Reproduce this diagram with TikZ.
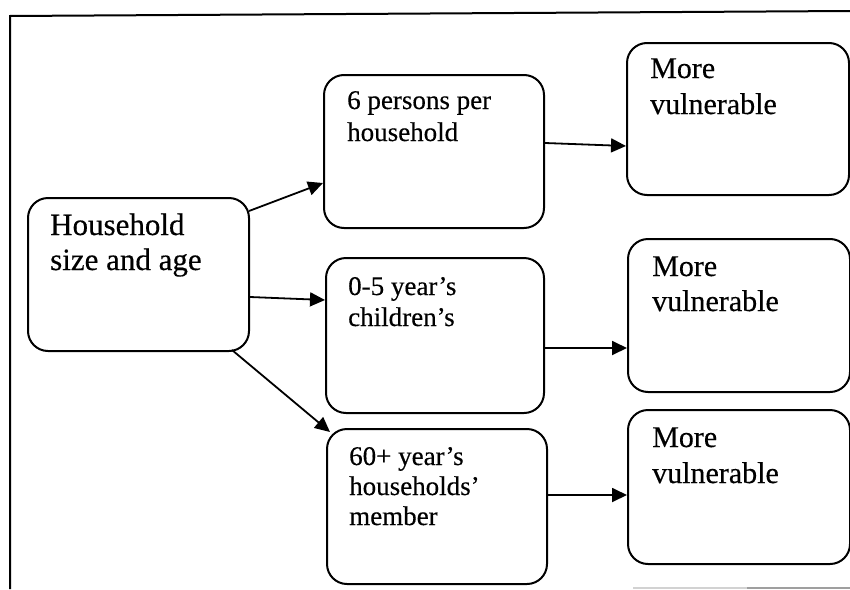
\documentclass[tikz,border=0pt]{standalone}
\usepackage{fontspec}
\setmainfont{Liberation Serif}[FakeBold=0.4]
\usetikzlibrary{calc,arrows.meta}
\begin{document}
\begin{tikzpicture}[x=1pt,y=-1pt,
  box/.style={draw, line width=2pt, rounded corners=20pt, anchor=north west, inner sep=0pt},
  txt/.style={anchor=base west, inner sep=0pt},
  link/.style={line width=1.8pt, -{Triangle[length=15pt,width=14pt]}},
  frame/.style={line width=2pt}]
\useasboundingbox (0,0) rectangle (850,589);

% outer frame
\draw[frame] (10,589) -- (10,16) -- (850,11);
\draw[gray!35, line width=1.5pt] (633,588) -- (747,588);
\draw[gray!75, line width=1.5pt] (747,588) -- (850,588);

% boxes
\node[box, minimum width=221pt, minimum height=153pt] (main) at (27,197) {};
\node[box, minimum width=220pt, minimum height=153pt] (mid1) at (323,74) {};
\node[box, minimum width=218pt, minimum height=155pt] (mid2) at (325,257) {};
\node[box, minimum width=220pt, minimum height=155pt] (mid3) at (326,428) {};
\node[box, minimum width=222pt, minimum height=152pt] (out1) at (626,42) {};
\node[box, minimum width=222pt, minimum height=153pt] (out2) at (627,238) {};
\node[box, minimum width=222pt, minimum height=154pt] (out3) at (627,409) {};

% texts
\node[txt] (tmain) at ($(main.north west)+(23,38)$)
  {\fontsize{31}{35}\selectfont\parbox[t]{200pt}{\raggedright Household\\size and age}};
\node[txt] (tmid1) at ($(mid1.north west)+(24,35)$)
  {\fontsize{27}{32}\selectfont\parbox[t]{190pt}{\raggedright 6 persons per\\household}};
\node[txt] (tmid2) at ($(mid2.north west)+(23,38)$)
  {\fontsize{27}{31}\selectfont\parbox[t]{190pt}{\raggedright 0-5 year’s\\children’s}};
\node[txt] (tmid3) at ($(mid3.north west)+(23,37)$)
  {\fontsize{27}{30}\selectfont\parbox[t]{190pt}{\raggedright 60+ year’s\\households’\\member}};
\node[txt] (tout1) at ($(out1.north west)+(24,36)$)
  {\fontsize{30}{36}\selectfont\parbox[t]{190pt}{\raggedright More\\vulnerable}};
\node[txt] (tout2) at ($(out2.north west)+(25,38)$)
  {\fontsize{30}{35}\selectfont\parbox[t]{190pt}{\raggedright More\\vulnerable}};
\node[txt] (tout3) at ($(out3.north west)+(25,38)$)
  {\fontsize{30}{36}\selectfont\parbox[t]{190pt}{\raggedright More\\vulnerable}};

% connectors
\draw[link] ($(main.north east)+(-1,14)$) -- ($(mid1.north west)+(0,109)$);
\draw[link] ($(main.north east)+(0,100)$) -- ($(mid2.north west)+(0,43)$);
\draw[link] ($(main.south east)+(-18,-2)$) -- ($(mid3.north west)+(4,4)$);
\draw[link] ($(mid1.north east)+(0,69)$) -- ($(out1.north west)+(0,104)$);
\draw[link] ($(mid2.north east)+(0,91)$) -- ($(out2.north west)+(0,110)$);
\draw[link] ($(mid3.north east)+(0,67)$) -- ($(out3.north west)+(0,86)$);
\end{tikzpicture}
\end{document}
